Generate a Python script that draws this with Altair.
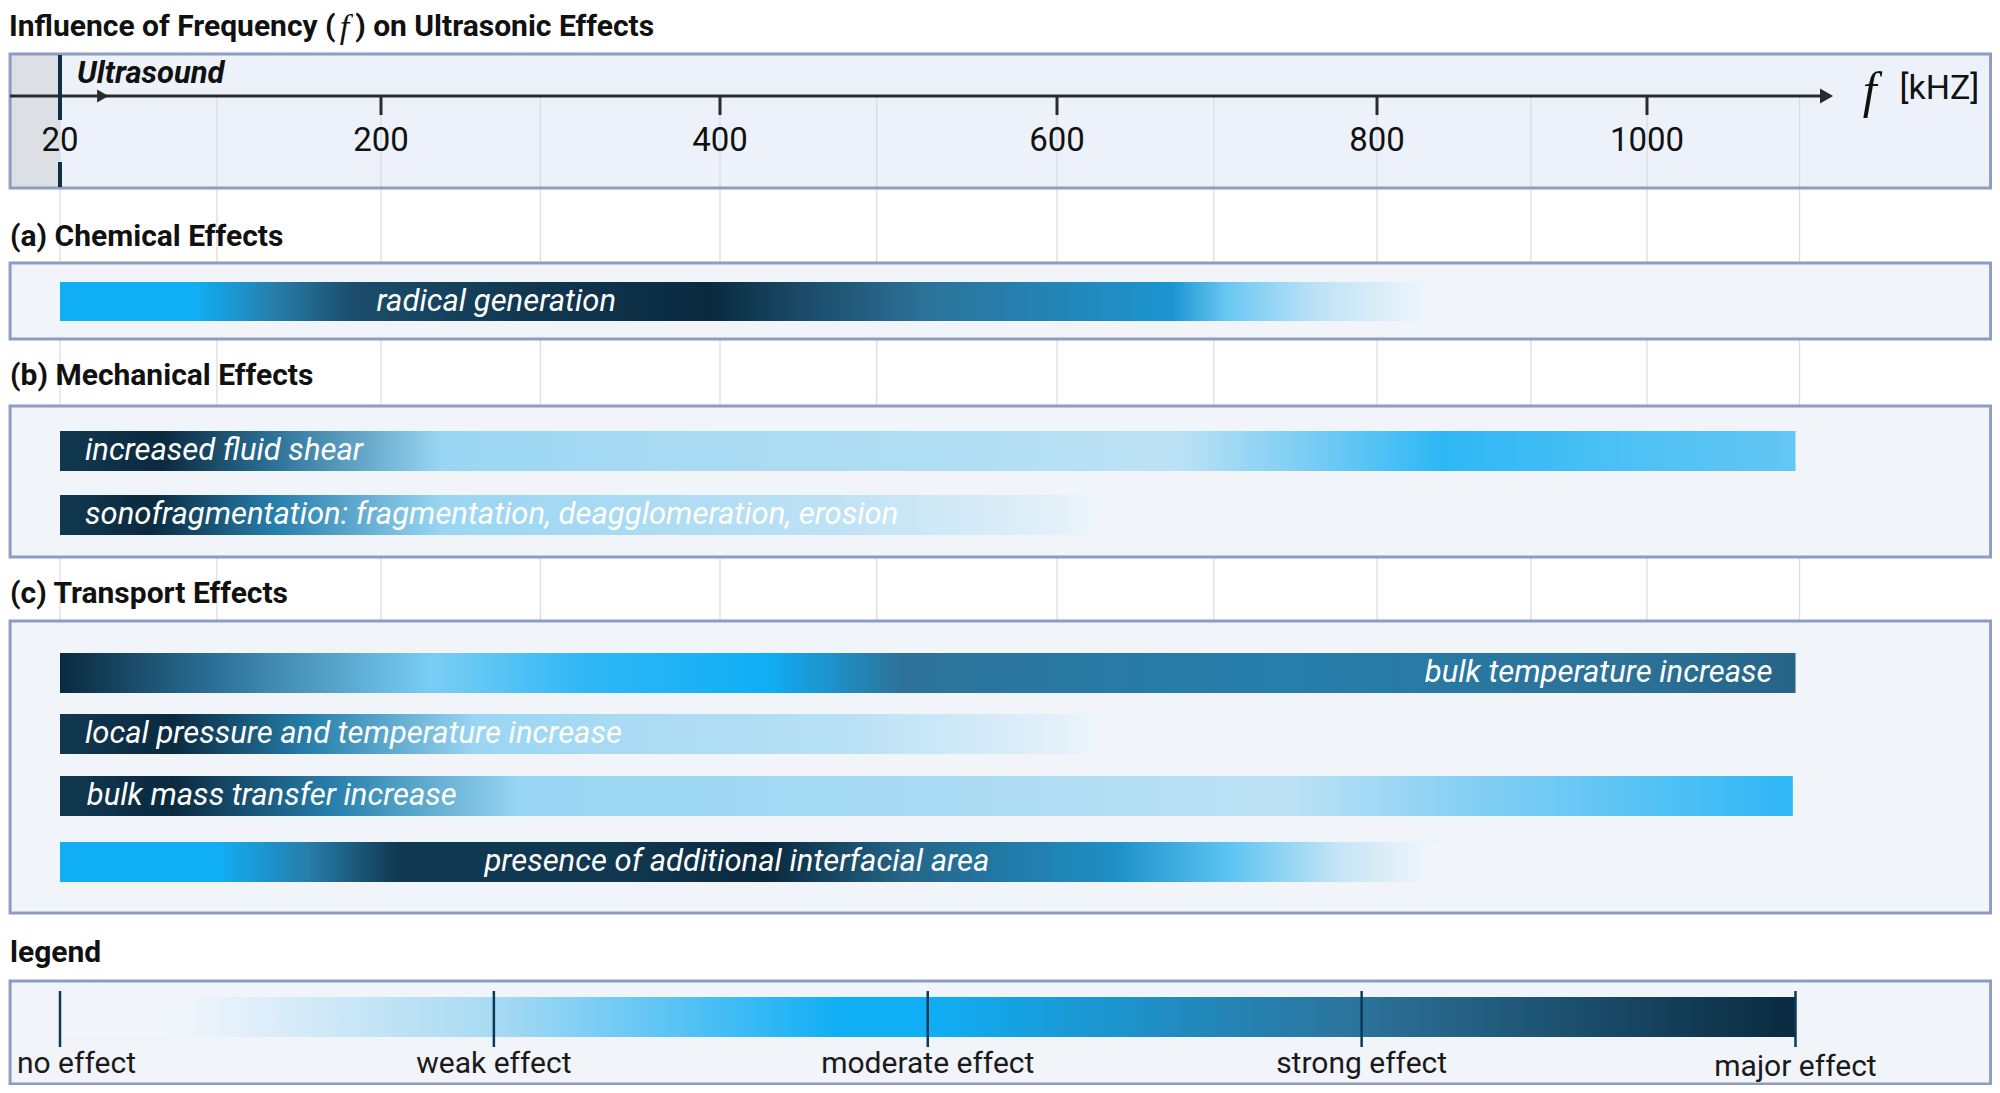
import altair as alt
import pandas as pd

# ---------------- data ----------------
TITLE_PARTS = ["Influence of Frequency (", "f", ") on Ultrasonic Effects"]
FREQ_TICKS = [20, 200, 400, 600, 800, 1000]
TICK_LABELS = ["20", "200", "400", "600", "800", "1000"]
GRID_KHZ = [20, 108, 200, 294, 400, 493, 600, 698, 800, 914, 1000, 1113]
SECTIONS = ["(a) Chemical Effects", "(b) Mechanical Effects", "(c) Transport Effects", "legend"]
EFFECT_LEVELS = [0, 1, 2, 3, 4]
EFFECT_NAMES = ["no effect", "weak effect", "moderate effect", "strong effect", "major effect"]

BAR_NAMES = [
    "radical generation",
    "increased fluid shear",
    "sonofragmentation: fragmentation, deagglomeration, erosion",
    "bulk temperature increase",
    "local pressure and temperature increase",
    "bulk mass transfer increase",
    "presence of additional interfacial area",
]
BAR_START = [20, 20, 20, 20, 20, 20, 20]
BAR_END = [850, 1110, 632, 1110, 632, 1108, 850]
# effect strength (0 = none ... 4 = major), at frequency (kHz)
RADICAL_F = [20, 96, 140, 184, 282, 395, 442, 522, 623, 672, 707, 763, 842]
RADICAL_L = [2, 2, 2.8, 3.5, 3.8, 4, 3.6, 3, 2.6, 2.4, 1.4, 0.7, 0]
SHEAR_F = [20, 77, 140, 236, 368, 532, 672, 756, 848, 981, 1110]
SHEAR_L = [3.8, 4, 3, 1.1, 1, 0.9, 0.7, 1.3, 1.8, 1.6, 1.45]
SONO_F = [20, 71, 140, 236, 335, 470, 602, 630]
SONO_L = [3.8, 4, 2.8, 1.1, 1, 0.7, 0.2, 0]
BULKT_F = [20, 109, 230, 322, 428, 508, 602, 742, 981, 1110]
BULKT_L = [4, 3, 1.3, 1.8, 2, 3, 2.9, 2.8, 3, 3.2]
LOCAL_F = [20, 83, 159, 256, 335, 470, 602, 630]
LOCAL_L = [3.8, 4, 2.8, 1.1, 1, 0.8, 0.2, 0]
MASS_F = [20, 83, 172, 282, 532, 742, 856, 1108]
MASS_L = [3.8, 4, 2.8, 1.1, 1, 0.7, 1.2, 1.8]
INTER_F = [20, 109, 159, 210, 335, 428, 508, 637, 707, 777, 842]
INTER_L = [2, 2, 2.8, 3.8, 3.8, 4, 3.2, 2.5, 1.5, 0.6, 0]
BAR_STOPS = [(RADICAL_F, RADICAL_L), (SHEAR_F, SHEAR_L), (SONO_F, SONO_L),
             (BULKT_F, BULKT_L), (LOCAL_F, LOCAL_L), (MASS_F, MASS_L), (INTER_F, INTER_L)]
LEGEND_STOP_POS = [0, 0.25, 1, 1.8, 2, 3, 4]
LEGEND_STOP_LVL = [0, 0, 1, 2, 2, 3, 4]

# ---------------- layout / style ----------------
W, H = 1984, 1077
X_RANGE = [52, 373, 712, 1049, 1369, 1639]          # pixel position of FREQ_TICKS
XS = alt.Scale(domain=FREQ_TICKS, range=X_RANGE, nice=False, zero=False, clamp=False)
YS = alt.Scale(domain=[8, 8 + H], range=[0, H], nice=False, zero=False)
PANEL_L, PANEL_R = -8.0, 1254.5
PANEL_ROWS = {"top": (54, 188), "a": (263, 339), "b": (406, 557), "c": (621, 913), "legend": (981, 1084)}
SECTION_Y = [237, 376, 594, 953]
TITLE_Y = 27
TITLE_X = [-8.6, 179.5, 185.5]
BAR_Y = [(282, 321), (431, 471), (495, 535), (653, 693), (714, 754), (776, 816), (842, 882)]
BAR_TEXT = [("center", 268), ("left", 34), ("left", 34), ("right", 1093), ("left", 34), ("left", 35), ("center", 410)]
EFFECT_COLORS = ["#f2f6fb", "#a8daf3", "#10aef5", "#2c7299", "#0a2a3f"]
FONT = "Roboto"
BORDER = "#8e9cc2"
INK = "#111111"


def px(k):
    d, r = FREQ_TICKS, X_RANGE
    if k <= d[0]:
        return r[0] + (k - d[0]) * (r[1] - r[0]) / (d[1] - d[0])
    for i in range(len(d) - 1):
        if k <= d[i + 1]:
            return r[i] + (k - d[i]) * (r[i + 1] - r[i]) / (d[i + 1] - d[i])
    return r[-1] + (k - d[-1]) * (r[-1] - r[-2]) / (d[-1] - d[-2])


def level_color(lv):
    lv = max(0.0, min(4.0, lv))
    i = min(int(lv), 3)
    t = lv - i
    a = EFFECT_COLORS[i].lstrip("#")
    b = EFFECT_COLORS[i + 1].lstrip("#")
    ca = [int(a[j:j + 2], 16) for j in (0, 2, 4)]
    cb = [int(b[j:j + 2], 16) for j in (0, 2, 4)]
    c = [round(ca[j] + (cb[j] - ca[j]) * t) for j in range(3)]
    return "#%02x%02x%02x" % tuple(c)


def enc_rect(ch, xs=XS):
    return ch.encode(
        x=alt.X("x:Q", scale=xs, axis=None), x2="x2:Q",
        y=alt.Y("y:Q", scale=YS, axis=None), y2="y2:Q")


def enc_vrule(ch, xs=XS):
    return ch.encode(x=alt.X("x:Q", scale=xs, axis=None), y=alt.Y("y:Q", scale=YS, axis=None), y2="y2:Q")


def enc_pt(ch, xs=XS):
    return ch.encode(x=alt.X("x:Q", scale=xs, axis=None), y=alt.Y("y:Q", scale=YS, axis=None))


def one(**kw):
    return pd.DataFrame({k: [v] for k, v in kw.items()})


layers = []

# top panel fill + grey "audible" zone
top = PANEL_ROWS["top"]
layers.append(enc_rect(alt.Chart(one(x=PANEL_L, x2=PANEL_R, y=top[0], y2=top[1])).mark_rect(fill="#edf2fa")))
layers.append(enc_rect(alt.Chart(one(x=PANEL_L, x2=FREQ_TICKS[0], y=top[0], y2=top[1])).mark_rect(fill="#dcdfe4")))

# grid lines
grid_df = pd.DataFrame({"x": GRID_KHZ, "y": [96] * len(GRID_KHZ), "y2": [913] * len(GRID_KHZ)})
layers.append(enc_vrule(alt.Chart(grid_df).mark_rule(color="#d6dbe5", strokeWidth=1.2)))

# section panels
keys = ("a", "b", "c", "legend")
sec_df = pd.DataFrame({
    "x": [PANEL_L] * 4, "x2": [PANEL_R] * 4,
    "y": [PANEL_ROWS[k][0] for k in keys], "y2": [PANEL_ROWS[k][1] for k in keys]})
layers.append(enc_rect(alt.Chart(sec_df).mark_rect(fill="#f1f4f9", stroke=BORDER, strokeWidth=3)))

# gradient bars
for i, name in enumerate(BAR_NAMES):
    s, e = BAR_START[i], BAR_END[i]
    fs, ls = BAR_STOPS[i]
    span = px(e) - px(s)
    stops = []
    for f, lv in zip(fs, ls):
        off = max(0.0, min(1.0, (px(f) - px(s)) / span))
        stops.append(alt.GradientStop(offset=off, color=level_color(lv)))
    stops.append(alt.GradientStop(offset=1.0, color=level_color(ls[-1])))
    grad = alt.LinearGradient(gradient="linear", stops=stops, x1=0, x2=1, y1=0, y2=0)
    layers.append(enc_rect(alt.Chart(one(x=s, x2=e, y=BAR_Y[i][0], y2=BAR_Y[i][1])).mark_rect(fill=grad)))

# bar labels
for al in ("left", "center", "right"):
    rows = [(BAR_TEXT[i][1], (BAR_Y[i][0] + BAR_Y[i][1]) / 2, BAR_NAMES[i])
            for i in range(len(BAR_NAMES)) if BAR_TEXT[i][0] == al]
    df = pd.DataFrame(rows, columns=["x", "y", "label"])
    layers.append(enc_pt(alt.Chart(df).mark_text(
        align=al, baseline="middle", font=FONT, fontSize=31, fontStyle="italic", color="white"))
        .encode(text="label:N"))

# top panel border
layers.append(enc_rect(alt.Chart(one(x=PANEL_L, x2=PANEL_R, y=top[0], y2=top[1]))
                       .mark_rect(fillOpacity=0, stroke=BORDER, strokeWidth=3)))

# 20 kHz boundary line (with gap for label)
b_df = pd.DataFrame({"x": [20, 20], "y": [55, 162], "y2": [120, 187]})
layers.append(enc_vrule(alt.Chart(b_df).mark_rule(color="#0d2f48", strokeWidth=4)))

# frequency axis line with arrows
layers.append(alt.Chart(one(x=PANEL_L, x2=1132, y=96)).mark_rule(color="#2b2b2b", strokeWidth=3).encode(
    x=alt.X("x:Q", scale=XS, axis=None), x2="x2:Q", y=alt.Y("y:Q", scale=YS, axis=None)))
arr_df = pd.DataFrame({"x": [1133, 44], "y": [96, 96], "s": [230, 170]})
layers.append(enc_pt(alt.Chart(arr_df).mark_point(shape="triangle-right", filled=True, color="#2b2b2b", opacity=1))
              .encode(size=alt.Size("s:Q", scale=None, legend=None)))

# ticks + labels
tk_df = pd.DataFrame({"x": FREQ_TICKS[1:], "y": [96] * 5, "y2": [115] * 5})
layers.append(enc_vrule(alt.Chart(tk_df).mark_rule(color="#2b2b2b", strokeWidth=3)))
tl_df = pd.DataFrame({"x": FREQ_TICKS, "y": [141] * 6, "label": TICK_LABELS})
layers.append(enc_pt(alt.Chart(tl_df).mark_text(align="center", baseline="middle", font=FONT, fontSize=33,
                                                color=INK)).encode(text="label:N"))

# Ultrasound, f [kHZ]
layers.append(enc_pt(alt.Chart(one(x=29.5, y=74, label="Ultrasound")).mark_text(
    align="left", baseline="middle", font=FONT, fontSize=31, fontWeight="bold", fontStyle="italic",
    color=INK)).encode(text="label:N"))
layers.append(enc_pt(alt.Chart(one(x=1165, y=92, label="f")).mark_text(
    align="center", baseline="middle", font="Liberation Serif", fontSize=50, fontStyle="italic",
    color=INK)).encode(text="label:N"))
layers.append(enc_pt(alt.Chart(one(x=1187, y=89, label="[kHZ]")).mark_text(
    align="left", baseline="middle", font=FONT, fontSize=34, color=INK)).encode(text="label:N"))

# title (three pieces, italic f) and section headings
layers.append(enc_pt(alt.Chart(pd.DataFrame({"x": [TITLE_X[0], TITLE_X[2]], "y": [TITLE_Y] * 2,
                                             "label": [TITLE_PARTS[0], TITLE_PARTS[2]]}))
                     .mark_text(align="left", baseline="middle", font=FONT, fontSize=30, fontWeight="bold",
                                color=INK)).encode(text="label:N"))
layers.append(enc_pt(alt.Chart(one(x=TITLE_X[1], y=TITLE_Y + 1, label=TITLE_PARTS[1]))
                     .mark_text(align="center", baseline="middle", font="Liberation Serif", fontSize=34,
                                fontStyle="italic", color=INK)).encode(text="label:N"))
hd_df = pd.DataFrame({"x": [-8.0] * 4, "y": SECTION_Y, "label": SECTIONS})
layers.append(enc_pt(alt.Chart(hd_df).mark_text(align="left", baseline="middle", font=FONT, fontSize=30,
                                                fontWeight="bold", color=INK)).encode(text="label:N"))

# legend (own x scale: effect level)
LS = alt.Scale(domain=[EFFECT_LEVELS[0], EFFECT_LEVELS[-1]], range=[px(BAR_START[0]), px(BAR_END[1])],
               nice=False, zero=False)
lg_stops = [alt.GradientStop(offset=p / 4, color=level_color(lv)) for p, lv in zip(LEGEND_STOP_POS, LEGEND_STOP_LVL)]
lg_grad = alt.LinearGradient(gradient="linear", stops=lg_stops, x1=0, x2=1, y1=0, y2=0)
layers.append(enc_rect(alt.Chart(one(x=0, x2=4, y=997, y2=1037)).mark_rect(fill=lg_grad), xs=LS))
lt_df = pd.DataFrame({"x": EFFECT_LEVELS, "y": [991] * 5, "y2": [1047] * 5})
layers.append(enc_vrule(alt.Chart(lt_df).mark_rule(color="#0d3a58", strokeWidth=2.5), xs=LS))
ll_df = pd.DataFrame({"x": EFFECT_LEVELS[1:], "y": [1064, 1064, 1064, 1067], "label": EFFECT_NAMES[1:]})
layers.append(enc_pt(alt.Chart(ll_df).mark_text(align="center", baseline="middle", font=FONT, fontSize=30,
                                                color="#1a1a1a"), xs=LS).encode(text="label:N"))
layers.append(enc_pt(alt.Chart(one(x=0, y=1064, label=EFFECT_NAMES[0])).mark_text(
    align="left", baseline="middle", dx=-43, font=FONT, fontSize=30, color="#1a1a1a"), xs=LS)
    .encode(text="label:N"))

chart = alt.layer(*layers).resolve_scale(x="independent").properties(
    width=W, height=H, padding=0, autosize=alt.AutoSizeParams(type="none"), background="white"
).configure_view(stroke="transparent")

chart.save("out.html", embed_options={"renderer": "svg", "actions": False})
